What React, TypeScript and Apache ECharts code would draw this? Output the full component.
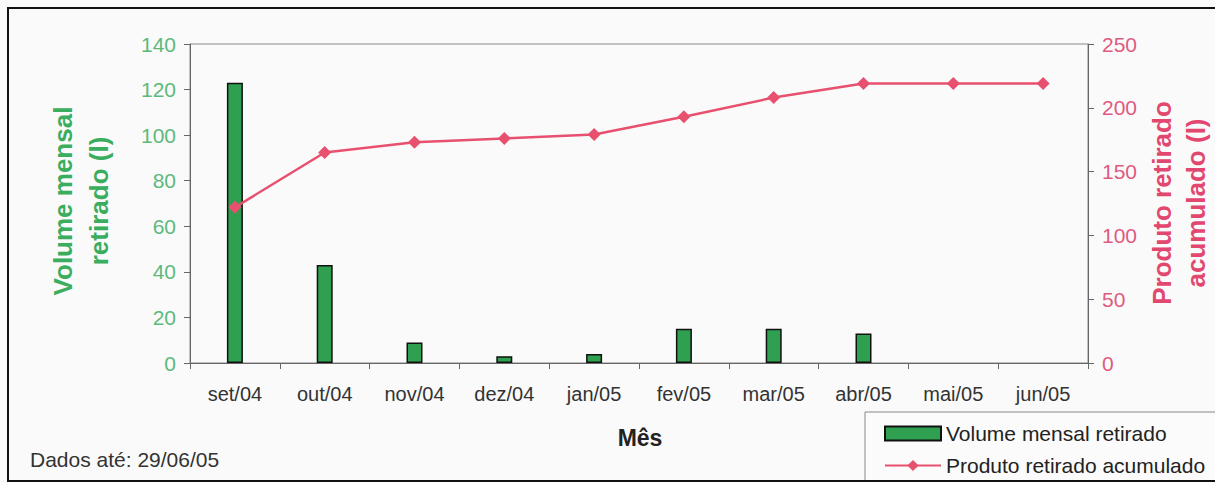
import React, { useEffect, useRef } from "react";
import * as echarts from "echarts";

const months = ["set/04", "out/04", "nov/04", "dez/04", "jan/05", "fev/05", "mar/05", "abr/05", "mai/05", "jun/05"];
const volumeMensal = [123, 43, 9, 3, 4, 15, 15, 13, 0, 0];
const produtoAcumulado = [122, 165, 173, 176, 179, 193, 208, 219, 219, 219];

const FONT = "'Liberation Sans', Arial, sans-serif";
const GREEN_LABEL = "#5cb97c";
const GREEN_TITLE = "#3aad5f";
const PINK_LABEL = "#e05a80";
const PINK_TITLE = "#e2486f";
const LINE_COLOR = "#e8506f";
const BAR_COLOR = "#2f9f50";
const AXIS_COLOR = "#666";

export default function App() {
  const ref = useRef<HTMLDivElement>(null);
  useEffect(() => {
    if (!ref.current) return;
    const chart = echarts.init(ref.current, null, { renderer: "svg" });
    const titleText = (text: string, x: number, y: number, fill: string) => ({
      type: "text",
      x,
      y,
      rotation: Math.PI / 2,
      style: {
        text,
        fill,
        font: `bold 26px ${FONT}`,
        textAlign: "center",
        textVerticalAlign: "middle",
      },
    });
    chart.setOption({
      animation: false,
      backgroundColor: "#fafafa",
      textStyle: { fontFamily: FONT },
      grid: {
        left: 190,
        right: 127,
        top: 44,
        bottom: 119,
        show: true,
        borderColor: "#888",
        borderWidth: 1,
        backgroundColor: "transparent",
      },
      legend: {
        orient: "vertical",
        left: 879,
        top: 418,
        itemWidth: 56,
        itemHeight: 14,
        itemGap: 11,
        textStyle: { fontFamily: FONT, fontSize: 21, color: "#222" },
        data: [
          { name: "Volume mensal retirado", icon: "rect" },
          { name: "Produto retirado acumulado" },
        ],
      },
      xAxis: {
        type: "category",
        data: months,
        boundaryGap: true,
        axisLine: { lineStyle: { color: AXIS_COLOR, width: 1 } },
        axisTick: { show: true, length: 6, lineStyle: { color: AXIS_COLOR } },
        axisLabel: { color: "#333", fontSize: 20, fontFamily: FONT, margin: 21 },
      },
      yAxis: [
        {
          type: "value",
          min: 0,
          max: 140,
          interval: 20,
          position: "left",
          axisLine: { show: true, lineStyle: { color: AXIS_COLOR } },
          axisTick: { show: true, length: 6, lineStyle: { color: AXIS_COLOR } },
          axisLabel: { color: GREEN_LABEL, fontSize: 21, fontFamily: FONT, margin: 14 },
          splitLine: { show: false },
        },
        {
          type: "value",
          min: 0,
          max: 250,
          interval: 50,
          position: "right",
          axisLine: { show: true, lineStyle: { color: AXIS_COLOR } },
          axisTick: { show: true, length: 6, lineStyle: { color: AXIS_COLOR } },
          axisLabel: { color: PINK_LABEL, fontSize: 21, fontFamily: FONT, margin: 14 },
          splitLine: { show: false },
        },
      ],
      series: [
        {
          name: "Volume mensal retirado",
          type: "bar",
          data: volumeMensal.map((v) =>
            v === 0 ? { value: v, itemStyle: { borderWidth: 0, opacity: 0 } } : v
          ),
          yAxisIndex: 0,
          barWidth: 16,
          itemStyle: { color: BAR_COLOR, borderColor: "#111", borderWidth: 1.5 },
        },
        {
          name: "Produto retirado acumulado",
          type: "line",
          data: produtoAcumulado,
          yAxisIndex: 1,
          symbol: "diamond",
          symbolSize: 13,
          lineStyle: { color: LINE_COLOR, width: 2.5 },
          itemStyle: { color: LINE_COLOR },
        },
      ],
      graphic: [
        {
          type: "rect",
          z: -1,
          shape: { x: 865, y: 412, width: 360, height: 80 },
          style: { fill: "#fbfbfb", stroke: "#888", lineWidth: 1 },
        },
        {
          type: "rect",
          z: 100,
          shape: { x: 8, y: 8, width: 1215, height: 473 },
          style: { fill: "none", stroke: "#111", lineWidth: 2 },
        },
        titleText("Volume mensal", 63, 201, GREEN_TITLE),
        titleText("retirado (l)", 99, 201, GREEN_TITLE),
        titleText("Produto retirado", 1162, 203, PINK_TITLE),
        titleText("acumulado (l)", 1196, 203, PINK_TITLE),
        {
          type: "text",
          x: 640,
          y: 438,
          style: {
            text: "Mês",
            fill: "#222",
            font: `bold 23px ${FONT}`,
            textAlign: "center",
            textVerticalAlign: "middle",
          },
        },
        {
          type: "text",
          x: 30,
          y: 459,
          style: {
            text: "Dados até: 29/06/05",
            fill: "#333",
            font: `21px ${FONT}`,
            textAlign: "left",
            textVerticalAlign: "middle",
          },
        },
      ],
    });
    return () => chart.dispose();
  }, []);
  return (
    <div
      ref={ref}
      style={{ position: "absolute", left: 0, top: 0, width: 1215, height: 482 }}
    />
  );
}
